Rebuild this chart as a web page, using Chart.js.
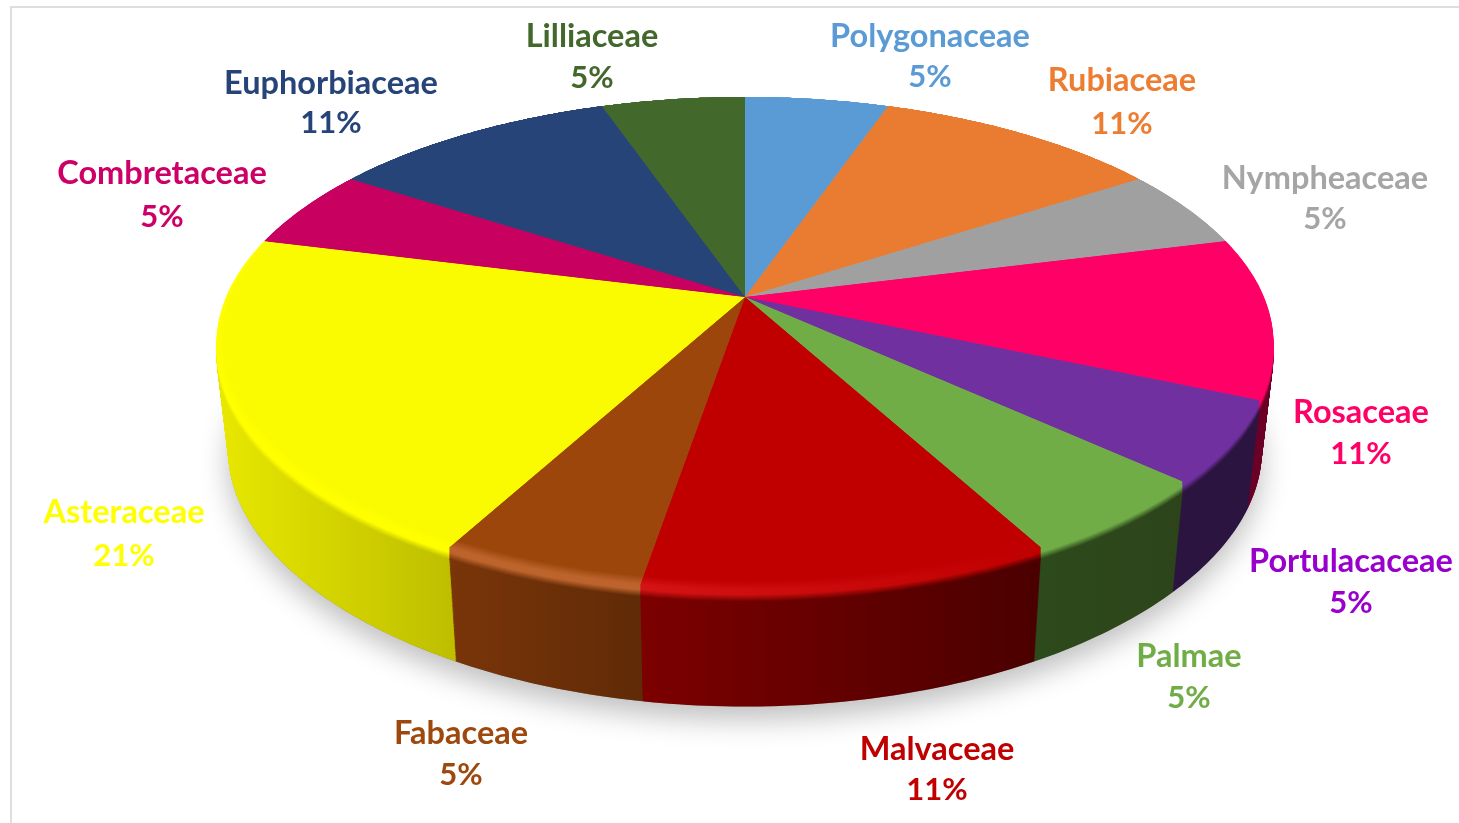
<!DOCTYPE html>
<html>
<head>
<meta charset="utf-8">
<style>
  html, body { margin: 0; padding: 0; background: #fff; overflow: hidden; }
  #frame { position: absolute; left: 10px; top: 6px; width: 1449px; height: 817px; border-left: 2px solid #dedede; border-top: 2px solid #dedede; box-sizing: border-box; }
  #pie { position: absolute; left: 0; top: 0; }
</style>
</head>
<body>
<div id="frame"></div>
<canvas id="pie" width="1459" height="823"></canvas>
<script src="https://cdn.jsdelivr.net/npm/chart.js@4/dist/chart.umd.min.js"></script>
<script>
"use strict";

const families = ["Polygonaceae", "Rubiaceae", "Nympheaceae", "Rosaceae", "Portulacaceae", "Palmae", "Malvaceae", "Fabaceae", "Asteraceae", "Combretaceae", "Euphorbiaceae", "Lilliaceae"];
// number of species per family, the percentages on the picture are these over 19
const counts = [1, 2, 1, 2, 1, 1, 2, 1, 4, 1, 2, 1];
const percents = ["5%", "11%", "5%", "11%", "5%", "5%", "11%", "5%", "21%", "5%", "11%", "5%"];

const topColors = ["#5b9bd5", "#e97c30", "#a0a0a0", "#ff0066", "#7030a0", "#70ad47", "#c00000", "#9c460c", "#fafa00", "#c80060", "#264478", "#43682b"];
const labelColors = ["#5b9bd5", "#ed7d31", "#a5a5a5", "#ff0066", "#9900cc", "#70ad47", "#c00000", "#9e480e", "#ffff00", "#cc0066", "#264478", "#43682b"];
const wallLeft = ["#5b9bd5", "#e97c30", "#7a7a7a", "#6b0026", "#2c1440", "#2d4a1c", "#7c0000", "#7a3509", "#e8e800", "#c80060", "#264478", "#43682b"];
const wallRight = ["#5b9bd5", "#e97c30", "#7a7a7a", "#6b0026", "#2c1440", "#2d441a", "#4a0000", "#602b07", "#bfbf00", "#c80060", "#264478", "#43682b"];
const rimLeft = ["#5b9bd5", "#e97c30", "#a0a0a0", "#ff0066", "#7030a0", "#70ad47", "#d41414", "#bd642c", "#ffff00", "#c80060", "#264478", "#43682b"];
const rimRight = ["#5b9bd5", "#e97c30", "#a0a0a0", "#ff0066", "#7030a0", "#70ad47", "#c00000", "#bd642c", "#ffff00", "#c80060", "#264478", "#43682b"];

const labelX = [930, 1122, 1325, 1361, 1351, 1189, 937, 461, 124, 162, 331, 592];
const nameY = [37, 81, 179, 413, 562, 657, 750, 734, 513, 174, 84, 37];
const percentY = [77, 124, 219, 454, 603, 698, 790, 775, 556, 217, 123, 78];

// perspective of the disc: apex at (apexX, apexY)
const apexX = 745, apexY = 297;
const spreadX = 519, spreadY = 237.7, tilt = -0.1886;
const bottomScale = 0.978, bottomY = 404, bottomSpreadY = 236, bottomTilt = -0.22;
const bevel = 12, wallLayers = 110;
const innerSteps = 8, innerInset = 0.03;

function hexRgb(h) {
    return [1, 3, 5].map(i => parseInt(h.substr(i, 2), 16));
}

function mixColor(a, b, t) {
    const ca = hexRgb(a), cb = hexRgb(b);
    return `rgb(${ca.map((c, i) => Math.round(c + (cb[i] - c) * t)).join(",")})`;
}

function lerp(a, b, t) {
    return a + (b - a) * t;
}

function flatLayer(y0, inset) {
    return { scaleX: spreadX, y0: y0, rimY: spreadY, tiltY: tilt, inset: inset };
}

// t = 0 is the top of the wall, t = 1 the foot of the pie
function wallLayer(t) {
    return {
        scaleX: lerp(1, bottomScale, t) * spreadX,
        y0: lerp(apexY + bevel, bottomY, t),
        rimY: lerp(spreadY, bottomSpreadY, t),
        tiltY: lerp(tilt, bottomTilt, t),
        inset: 0
    };
}

function project(angle, layer) {
    const u = Math.cos(angle), v = Math.sin(angle);
    // the inset only pulls in the near part of the edge, the far edge stays put
    const f = 1 - layer.inset * Math.max(0, (v + 0.6) / 1.6);
    return [apexX + f * layer.scaleX * u / (1 + tilt * v), layer.y0 + f * layer.rimY * v / (1 + layer.tiltY * v)];
}

function slicePath(ctx, arc, layer) {
    const n = Math.ceil((arc.endAngle - arc.startAngle) / 0.015);
    ctx.beginPath();
    ctx.moveTo(apexX, layer.y0);
    for (let i = 0; i <= n; i++) {
        const p = project(lerp(arc.startAngle, arc.endAngle, i / n), layer);
        ctx.lineTo(p[0], p[1]);
    }
    ctx.closePath();
}

function rangeX(arc) {
    let lo = Infinity, hi = -Infinity;
    const layer = flatLayer(apexY, 0);
    for (let i = 0; i <= 40; i++) {
        const x = project(lerp(arc.startAngle, arc.endAngle, i / 40), layer)[0];
        lo = Math.min(lo, x);
        hi = Math.max(hi, x);
    }
    return [lo, hi];
}

function fillLayer(ctx, arcs, layer, fromLeft, fromRight, toLeft, toRight, mix) {
    arcs.forEach((arc, i) => {
        const r = rangeX(arc);
        const g = ctx.createLinearGradient(r[0], 0, r[1], 0);
        g.addColorStop(0, mixColor(fromLeft[i], toLeft[i], mix));
        g.addColorStop(1, mixColor(fromRight[i], toRight[i], mix));
        slicePath(ctx, arc, layer);
        ctx.fillStyle = g;
        ctx.fill();
    });
}

const discPlugin = {
    id: "disc",
    // the library worked out the slice angles, only the painting is replaced
    beforeDatasetsDraw(chart) {
        const ctx = chart.ctx;
        const arcs = chart.getDatasetMeta(0).data;

        // soft shadow under the disc
        ctx.save();
        ctx.shadowColor = "rgba(0,0,0,0.25)";
        ctx.shadowBlur = 28;
        ctx.shadowOffsetY = 13;
        ctx.fillStyle = "#888";
        ctx.beginPath();
        const foot = wallLayer(1);
        for (let i = 0; i <= 400; i++) {
            const p = project(i / 400 * Math.PI * 2, foot);
            ctx.lineTo(p[0], p[1]);
        }
        ctx.closePath();
        ctx.fill();
        ctx.restore();

        // side wall, stacked from the foot up
        for (let l = wallLayers; l >= 0; l--) {
            fillLayer(ctx, arcs, wallLayer(l / wallLayers), wallLeft, wallRight, rimLeft, rimRight, 0);
        }
        // rounded rim going from the wall up to the highlight
        for (let d = bevel; d >= 0; d--) {
            fillLayer(ctx, arcs, flatLayer(apexY + d, 0), wallLeft, wallRight, rimLeft, rimRight, Math.min(1, (bevel - d) / 7));
        }
        // highlight fading into the flat top
        for (let j = 1; j <= innerSteps; j++) {
            fillLayer(ctx, arcs, flatLayer(apexY, innerInset * j / innerSteps), rimLeft, rimRight, topColors, topColors, j / innerSteps);
        }
        return false;
    },
    afterDraw(chart) {
        const ctx = chart.ctx;
        ctx.save();
        ctx.textAlign = "center";
        ctx.textBaseline = "middle";
        families.forEach((name, i) => {
            ctx.fillStyle = labelColors[i];
            ctx.font = "700 32.5px Lato";
            ctx.fillText(name, labelX[i], nameY[i]);
            ctx.font = "700 31px Lato";
            ctx.fillText(percents[i], labelX[i], percentY[i]);
        });
        ctx.restore();
    }
};

new Chart(document.getElementById("pie"), {
    type: "pie",
    data: {
        labels: families,
        datasets: [{ data: counts, backgroundColor: topColors, borderWidth: 0 }]
    },
    options: {
        responsive: false,
        animation: false,
        plugins: { legend: { display: false }, tooltip: { enabled: false } }
    },
    plugins: [discPlugin]
});
</script>
</body>
</html>
